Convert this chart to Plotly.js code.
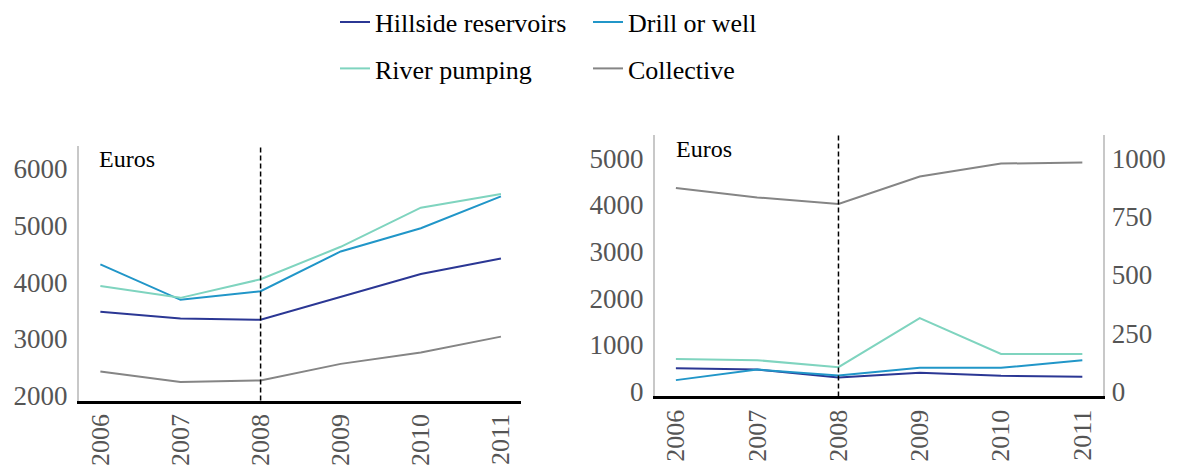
<!DOCTYPE html>
<html>
<head>
<meta charset="utf-8">
<script src="https://cdn.plot.ly/plotly-3.0.1.min.js"></script>
<style>
  html, body { margin: 0; padding: 0; background: #fff; }
  #chart { width: 1184px; height: 468px; }
</style>
</head>
<body>
<div id="chart"></div>
<script>
// ---- Data ----
const years = [2006, 2007, 2008, 2009, 2010, 2011];
const seriesNames = ["Hillside reservoirs", "Drill or well", "River pumping", "Collective"];

// Left panel (Euros)
const leftHillside   = [3476, 3359, 3335, 3739, 4143, 4419];
const leftDrill      = [4313, 3687, 3839, 4542, 4952, 5514];
const leftRiver      = [3933, 3722, 4050, 4624, 5315, 5555];
const leftCollective = [2422, 2234, 2264, 2556, 2755, 3037];

// Right panel (Euros, left axis) and Collective on right axis
const rightHillside   = [498, 469, 299, 398, 334, 313];
const rightDrill      = [242, 469, 341, 505, 505, 669];
const rightRiver      = [697, 669, 519, 1572, 804, 804];
const rightCollective = [872, 832, 804, 922, 977, 982];

const leftTicks = [2000, 3000, 4000, 5000, 6000];
const rightTicks = [0, 1000, 2000, 3000, 4000, 5000];
const right2Ticks = [0, 250, 500, 750, 1000];
const unitLabel = "Euros";
const breakYear = 2008;

// ---- Styles ----
const colors = ["#2b3794", "#2196c8", "#7fd4bf", "#858585"];
const FONT = "Liberation Serif";
function tickFont(s) { return {family: FONT, size: s, color: "#555555"}; }

function mk(x, y, name, i, xa, ya, legend, show) {
  return {
    x: x, y: y, name: name, type: "scatter", mode: "lines",
    line: {color: colors[i], width: 2},
    xaxis: xa, yaxis: ya, legend: legend, showlegend: show,
    hoverinfo: "x+y+name"
  };
}

const traces = [
  mk(years, leftHillside,   seriesNames[0], 0, "x", "y", "legend", true),
  mk(years, leftDrill,      seriesNames[1], 1, "x", "y", "legend", true),
  mk(years, leftRiver,      seriesNames[2], 2, "x", "y", "legend2", true),
  mk(years, leftCollective, seriesNames[3], 3, "x", "y", "legend2", true),
  mk(years, rightHillside,   seriesNames[0], 0, "x2", "y2", "legend", false),
  mk(years, rightDrill,      seriesNames[1], 1, "x2", "y2", "legend", false),
  mk(years, rightRiver,      seriesNames[2], 2, "x2", "y2", "legend", false),
  mk(years, rightCollective, seriesNames[3], 3, "x2", "y3", "legend", false)
];

function xBase() {
  return {
    tickvals: years, ticktext: years.map(String), tickangle: -90,
    tickfont: tickFont(26), showline: true, linecolor: "#000000", linewidth: 3,
    showgrid: false, zeroline: false, ticks: "", fixedrange: true, ticklabelstandoff: 0
  };
}
function yBase() {
  return {
    tickfont: tickFont(27), showline: true, linecolor: "#c8c8c8", linewidth: 1.5,
    showgrid: false, zeroline: false, ticks: "", fixedrange: true, ticklabelstandoff: 4
  };
}

function legendBase() {
  return {
    orientation: "h", font: {family: FONT, size: 26, color: "#000000"},
    bgcolor: "rgba(0,0,0,0)", borderwidth: 0, xanchor: "left", yanchor: "middle",
    entrywidth: 208, entrywidthmode: "pixels", itemclick: false, itemdoubleclick: false
  };
}

const layout = {
  width: 1184, height: 468,
  margin: {l: 0, r: 0, t: 0, b: 0, autoexpand: false},
  paper_bgcolor: "#ffffff", plot_bgcolor: "#ffffff",
  font: {family: FONT, color: "#555555"},
  xaxis: Object.assign(xBase(), {domain: [0.0665, 0.440], range: [2005.73, 2011.25], anchor: "y"}),
  yaxis: Object.assign(yBase(), {domain: [0.144, 0.688], range: [1907, 6404], tickvals: leftTicks, anchor: "x"}),
  xaxis2: Object.assign(xBase(), {domain: [0.5530, 0.9313], range: [2005.74, 2011.25], anchor: "y2"}),
  yaxis2: Object.assign(yBase(), {domain: [0.153, 0.7115], range: [-107, 5498], tickvals: rightTicks, anchor: "x2"}),
  yaxis3: Object.assign(yBase(), {domain: [0.153, 0.7115], range: [-21.4, 1099.6], tickvals: right2Ticks,
                                  overlaying: "y2", side: "right", anchor: "x2", ticklabelstandoff: 2}),
  legend: Object.assign(legendBase(), {x: 335 / 1184, y: 1 - 22 / 468}),
  legend2: Object.assign(legendBase(), {x: 335 / 1184, y: 1 - 68.5 / 468}),
  shapes: [
    {type: "line", xref: "x", yref: "y domain", x0: breakYear, x1: breakYear, y0: 0, y1: 1,
     line: {color: "#000000", width: 1.5, dash: "5px,3px"}},
    {type: "line", xref: "x2", yref: "y2 domain", x0: breakYear, x1: breakYear, y0: 0, y1: 1,
     line: {color: "#000000", width: 1.5, dash: "5px,3px"}}
  ],
  annotations: [
    {text: unitLabel, xref: "paper", yref: "paper", x: 97 / 1184, y: 1 - 159 / 468,
     xanchor: "left", yanchor: "middle", showarrow: false, font: {family: FONT, size: 24, color: "#000000"}},
    {text: unitLabel, xref: "paper", yref: "paper", x: 674 / 1184, y: 1 - 149 / 468,
     xanchor: "left", yanchor: "middle", showarrow: false, font: {family: FONT, size: 24, color: "#000000"}}
  ]
};

Plotly.newPlot("chart", traces, layout, {displayModeBar: false});
</script>
</body>
</html>
